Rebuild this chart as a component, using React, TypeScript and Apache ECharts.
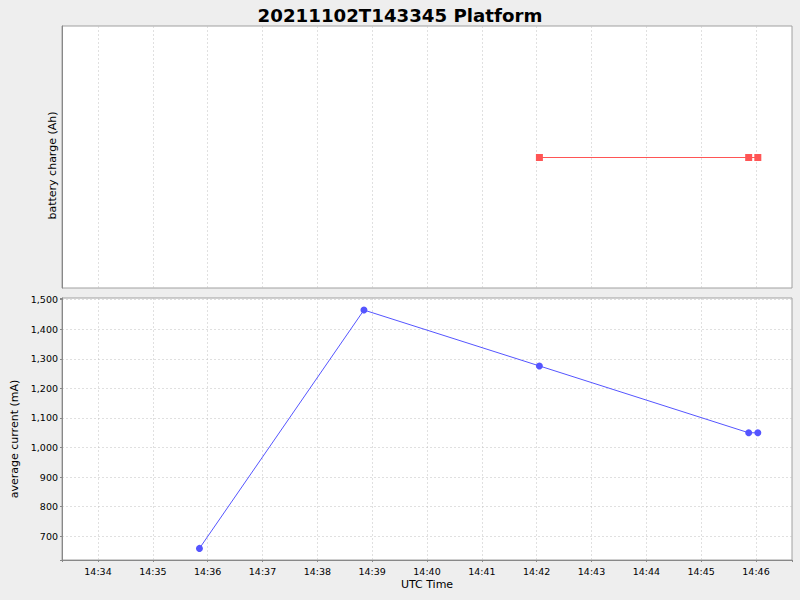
import { useEffect, useRef } from 'react'
import * as echarts from 'echarts'

// 20211102T143345 Platform · battery charge + average current over UTC time

const FONT = 'DejaVu Sans, Verdana, sans-serif'
const BG_COLOR = '#eeeeee'
const AXIS_COLOR = '#888888'
const BORDER_COLOR = '#a0a0a0'
const GRID_COLOR = '#c0c0c0'
const RED = '#ff5555'
const BLUE = '#5555ff'

// x range of both plots (UTC)
const X_RANGE = ['2021-11-02T14:33:20.600Z', '2021-11-02T14:46:39.400Z']

// battery charge (Ah) — constant, the plot shows no tick labels
const chargeTimes = [
  '2021-11-02T14:42:03Z',
  '2021-11-02T14:45:52Z',
  '2021-11-02T14:46:02Z',
]
const chargeValues = [0, 0, 0]
const CHARGE_RANGE = [-1, 1.0077]

// average current (mA)
const currentTimes = [
  '2021-11-02T14:35:51Z',
  '2021-11-02T14:38:51Z',
  '2021-11-02T14:42:03Z',
  '2021-11-02T14:45:52Z',
  '2021-11-02T14:46:02Z',
]
const currentValues = [659, 1465, 1276, 1050, 1050]

const CURRENT_RANGE = [619.8, 1505.7]

const pad = (n: number) => String(n).padStart(2, '0')
const timeLabel = (v: number) => {
  if (Math.round(v) % 60000 !== 0) return ''
  const d = new Date(v)
  return `${pad(d.getUTCHours())}:${pad(d.getUTCMinutes())}`
}
const numLabel = (v: number) =>
  Math.round(v) % 100 !== 0 ? '' : v.toLocaleString('en-US')

const gridLine = {
  show: true,
  showMinLine: false,
  showMaxLine: false,
  lineStyle: { color: GRID_COLOR, type: [2, 2] as number[], width: 0.5 },
}

export default function App() {
  const ref = useRef<HTMLDivElement>(null)

  useEffect(() => {
    if (!ref.current) return
    const chart = echarts.init(ref.current, undefined, { renderer: 'svg' })

    const xMin = Date.parse(X_RANGE[0])
    const xMax = Date.parse(X_RANGE[1])

    const xAxisBase = {
      type: 'value' as const,
      min: xMin,
      max: xMax,
      minInterval: 60000,
      maxInterval: 60000,
      splitLine: gridLine,
    }

    chart.setOption({
      animation: false,
      backgroundColor: BG_COLOR,
      textStyle: { fontFamily: FONT },
      title: {
        text: '20211102T143345 Platform',
        left: 'center',
        top: 1,
        textStyle: { fontFamily: FONT, fontSize: 18.2, fontWeight: 'bold', color: '#000' },
      },
      grid: [
        { left: 62, right: 8, top: 26, height: 262, show: true, backgroundColor: '#fff', borderColor: BORDER_COLOR, borderWidth: 1 },
        { left: 62, right: 8, top: 298, height: 262, show: true, backgroundColor: '#fff', borderColor: BORDER_COLOR, borderWidth: 1 },
      ],
      xAxis: [
        {
          ...xAxisBase,
          gridIndex: 0,
          axisLine: { show: false },
          axisTick: { show: false },
          axisLabel: { show: false },
        },
        {
          ...xAxisBase,
          gridIndex: 1,
          name: 'UTC Time',
          nameLocation: 'middle',
          nameGap: 19,
          nameTextStyle: { fontFamily: FONT, fontSize: 11, color: '#000' },
          axisLine: { show: true, lineStyle: { color: AXIS_COLOR } },
          axisTick: { show: true, length: 2, lineStyle: { color: AXIS_COLOR } },
          axisLabel: { margin: 6, fontFamily: FONT, fontSize: 9.5, color: '#000', formatter: timeLabel },
        },
      ],
      yAxis: [
        {
          type: 'value',
          gridIndex: 0,
          min: CHARGE_RANGE[0],
          max: CHARGE_RANGE[1],
          name: 'battery charge (Ah)',
          nameLocation: 'middle',
          nameGap: 4,
          nameTextStyle: { fontFamily: FONT, fontSize: 11, color: '#000', padding: [0, 17, 0, 0] },
          axisLine: { show: true, lineStyle: { color: AXIS_COLOR } },
          axisTick: { show: false },
          axisLabel: { show: false },
          splitLine: { show: false },
        },
        {
          type: 'value',
          gridIndex: 1,
          min: CURRENT_RANGE[0],
          max: CURRENT_RANGE[1],
          minInterval: 100,
          maxInterval: 100,
          name: 'average current (mA)',
          nameLocation: 'middle',
          nameGap: 33,
          nameTextStyle: { fontFamily: FONT, fontSize: 11, color: '#000', padding: [0, 20, 0, 0] },
          axisLine: { show: true, lineStyle: { color: AXIS_COLOR } },
          axisTick: { show: true, length: 2, lineStyle: { color: AXIS_COLOR } },
          axisLabel: { margin: 4, fontFamily: FONT, fontSize: 9.5, color: '#000', formatter: numLabel },
          splitLine: gridLine,
        },
      ],
      series: [
        {
          type: 'line',
          xAxisIndex: 0,
          yAxisIndex: 0,
          symbol: 'rect',
          symbolSize: 7,
          showAllSymbol: true,
          lineStyle: { color: RED, width: 1 },
          itemStyle: { color: RED },
          data: chargeTimes.map((t, i) => [Date.parse(t), chargeValues[i]]),
        },
        {
          type: 'line',
          xAxisIndex: 1,
          yAxisIndex: 1,
          symbol: 'circle',
          symbolSize: 7,
          showAllSymbol: true,
          lineStyle: { color: BLUE, width: 1 },
          itemStyle: { color: BLUE },
          data: currentTimes.map((t, i) => [Date.parse(t), currentValues[i]]),
        },
      ],
    })

    return () => chart.dispose()
  }, [])

  return (
    <div
      ref={ref}
      style={{ position: 'absolute', left: 0, top: 0, width: 800, height: 600 }}
    />
  )
}
